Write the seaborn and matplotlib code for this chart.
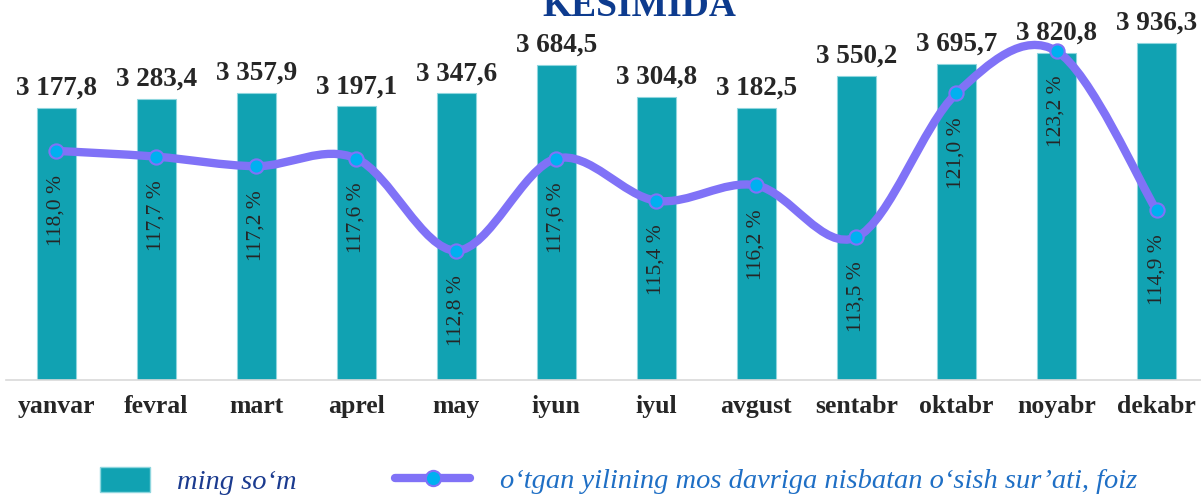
"""Monthly values (bars) with year-on-year growth rate (smoothed line)."""

import matplotlib.pyplot as plt
import seaborn as sns
from matplotlib.lines import Line2D
from matplotlib.patches import Patch, PathPatch
from matplotlib.path import Path

MONTHS = ["yanvar", "fevral", "mart", "aprel", "may", "iyun",
          "iyul", "avgust", "sentabr", "oktabr", "noyabr", "dekabr"]
VALUES = [3177.8, 3283.4, 3357.9, 3197.1, 3347.6, 3684.5,
          3304.8, 3182.5, 3550.2, 3695.7, 3820.8, 3936.3]
GROWTH = [118.0, 117.7, 117.2, 117.6, 112.8, 117.6,
          115.4, 116.2, 113.5, 121.0, 123.2, 114.9]
BAR_LABEL = "ming so\u2018m"
LINE_LABEL = "o\u2018tgan yilining mos davriga nisbatan o\u2018sish sur\u2019ati, foiz"
TITLE = "KESIMIDA"

BAR_COLOR = "#11A2B2"
LINE_COLOR = "#8072F7"
MARKER_COLOR = "#00B0F0"


def fmt_value(v):
    whole, frac = f"{v:.1f}".split(".")
    whole = f"{int(whole):,}".replace(",", " ")
    return f"{whole},{frac}"


def smooth_path(xs, ys):
    """Catmull-Rom style bezier through the points (like a smoothed line)."""
    pts = list(zip(xs, ys))
    n = len(pts)
    verts = [pts[0]]
    codes = [Path.MOVETO]
    for i in range(n - 1):
        p0 = pts[max(i - 1, 0)]
        p1 = pts[i]
        p2 = pts[i + 1]
        p3 = pts[min(i + 2, n - 1)]
        c1 = (p1[0] + (p2[0] - p0[0]) / 6, p1[1] + (p2[1] - p0[1]) / 6)
        c2 = (p2[0] - (p3[0] - p1[0]) / 6, p2[1] - (p3[1] - p1[1]) / 6)
        verts += [c1, c2, p2]
        codes += [Path.CURVE4] * 3
    return Path(verts, codes)


sns.set_style("white")
plt.rcParams["font.family"] = ["Liberation Serif", "DejaVu Serif"]

fig = plt.figure(figsize=(12.01, 4.96), dpi=100)
ax = fig.add_axes([6 / 1201, 116 / 496, 1195 / 1201, 380 / 496])

sns.barplot(x=MONTHS, y=VALUES, ax=ax, color=BAR_COLOR, saturation=1,
            width=0.39, edgecolor="#8ED6DE", linewidth=0.8)
ax.set_xlim(-0.5, 11.444)
ax.set_ylim(0, 4440)
ax.set_yticks([])
ax.set_xticks(range(len(MONTHS)))
ax.set_xticklabels(MONTHS, fontsize=18.5, fontweight="bold")
ax.tick_params(axis="x", length=0, pad=11)
for side in ["top", "left", "right"]:
    ax.spines[side].set_visible(False)
ax.spines["bottom"].set_color("#D9D9D9")
ax.spines["bottom"].set_linewidth(1.2)

for i, v in enumerate(VALUES):
    ax.annotate(fmt_value(v), (i, v), xytext=(0, 13), textcoords="offset pixels",
                ha="center", va="baseline", fontsize=19.5, fontweight="bold")

ax2 = ax.twinx()
ax2.set_ylim(106.06, 125.86)
ax2.set_yticks([])
for side in ax2.spines:
    ax2.spines[side].set_visible(False)

xs = list(range(len(GROWTH)))
ax2.add_patch(PathPatch(smooth_path(xs, GROWTH), fill=False,
                        edgecolor=LINE_COLOR, lw=6, capstyle="round",
                        joinstyle="round", zorder=3))
sns.scatterplot(x=xs, y=GROWTH, ax=ax2, s=105, color=MARKER_COLOR,
                edgecolor=LINE_COLOR, linewidth=1.5, zorder=4)

for i, p in enumerate(GROWTH):
    ax2.annotate(f"{p:.1f}".replace(".", ",") + " %", (i, p),
                 xytext=(0, -24), textcoords="offset pixels",
                 ha="center", va="top", rotation=90, fontsize=15.5, zorder=5)

fig.text(639 / 1201, 1 - 16 / 496, TITLE, ha="center", va="baseline",
         fontsize=27, fontweight="bold", color="#0D3B8E")

bar_handle = Patch(facecolor=BAR_COLOR, edgecolor="#8ED6DE")
line_handle = Line2D([], [], color=LINE_COLOR, lw=6, marker="o", ms=11,
                     mfc=MARKER_COLOR, mec=LINE_COLOR, mew=1.5)
fs = 20.5
em = fs * 100 / 72
leg1 = fig.legend([bar_handle], [BAR_LABEL], loc="center left",
                  bbox_to_anchor=(100 / 1201, 15 / 496), frameon=False,
                  borderpad=0, borderaxespad=0, handlelength=50 / em,
                  handleheight=28 / em, handletextpad=27 / em,
                  prop={"size": fs, "style": "italic"})
leg1.get_texts()[0].set_color("#1B3B8F")
leg2 = fig.legend([line_handle], [LINE_LABEL], loc="center left",
                  bbox_to_anchor=(395 / 1201, 15 / 496), frameon=False,
                  borderpad=0, borderaxespad=0, handlelength=75 / em,
                  handletextpad=30 / em, prop={"size": fs, "style": "italic"})
leg2.get_texts()[0].set_color("#1F6FC5")

fig.savefig("out.png", dpi=100)
plt.close(fig)
